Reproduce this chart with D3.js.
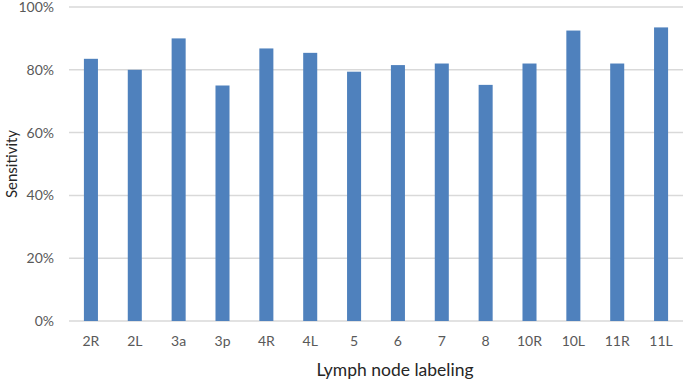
<!DOCTYPE html>
<html>
<head>
<meta charset="utf-8">
<script src="https://cdn.jsdelivr.net/npm/d3@7"></script>
<style>
  body { margin: 0; background: #fff; }
  svg { font-family: Lato, "Open Sans", sans-serif; }
</style>
</head>
<body>
<div id="chart"></div>
<script>
// sensitivity per lymph node station
const stations = ["2R", "2L", "3a", "3p", "4R", "4L", "5", "6", "7", "8", "10R", "10L", "11R", "11L"];
const sensitivity = [0.835, 0.80, 0.90, 0.75, 0.868, 0.854, 0.794, 0.815, 0.82, 0.752, 0.82, 0.925, 0.82, 0.935];
const yTicks = [0, 0.2, 0.4, 0.6, 0.8, 1.0];

(function () {
  const W = 685, H = 383;
  const margin = { top: 7, right: 2, bottom: 62, left: 69 };
  const width = W - margin.left - margin.right;
  const height = H - margin.top - margin.bottom;

  const svg = d3.select("#chart").append("svg").attr("width", W).attr("height", H);
  const g = svg.append("g").attr("transform", `translate(${margin.left},${margin.top})`);

  const x = d3.scaleBand().domain(stations).range([0, width]).paddingInner(0.68).paddingOuter(0.34);
  const y = d3.scaleLinear().domain([0, 1]).range([height, 0]);

  // gridlines
  g.selectAll(".grid")
    .data(yTicks)
    .join("line")
    .attr("x1", 0)
    .attr("x2", width)
    .attr("y1", (d) => y(d))
    .attr("y2", (d) => y(d))
    .attr("stroke", "#d9d9d9")
    .attr("stroke-width", 1.5);

  // y tick labels
  g.selectAll(".ytick")
    .data(yTicks)
    .join("text")
    .attr("x", -15)
    .attr("y", (d) => y(d))
    .attr("dy", "0.35em")
    .attr("text-anchor", "end")
    .attr("font-size", "14px")
    .attr("fill", "#595959")
    .text(d3.format(".0%"));

  // bars
  g.selectAll(".bar")
    .data(stations)
    .join("rect")
    .attr("x", (d) => x(d))
    .attr("width", x.bandwidth())
    .attr("y", (d, i) => y(sensitivity[i]))
    .attr("height", (d, i) => y(0) - y(sensitivity[i]))
    .attr("fill", "#4f81bd");

  // x tick labels
  g.selectAll(".xtick")
    .data(stations)
    .join("text")
    .attr("x", (d) => x(d) + x.bandwidth() / 2)
    .attr("y", height + 25)
    .attr("text-anchor", "middle")
    .attr("font-size", "14px")
    .attr("fill", "#595959")
    .text((d) => d);

  // axis titles
  svg.append("text")
    .attr("x", 395)
    .attr("y", 376)
    .attr("text-anchor", "middle")
    .attr("font-size", "17.5px")
    .attr("fill", "#262626")
    .text("Lymph node labeling");

  svg.append("text")
    .attr("transform", `translate(17,${margin.top + height / 2}) rotate(-90)`)
    .attr("text-anchor", "middle")
    .attr("font-size", "15px")
    .attr("fill", "#262626")
    .text("Sensitivity");
})();
</script>
</body>
</html>
